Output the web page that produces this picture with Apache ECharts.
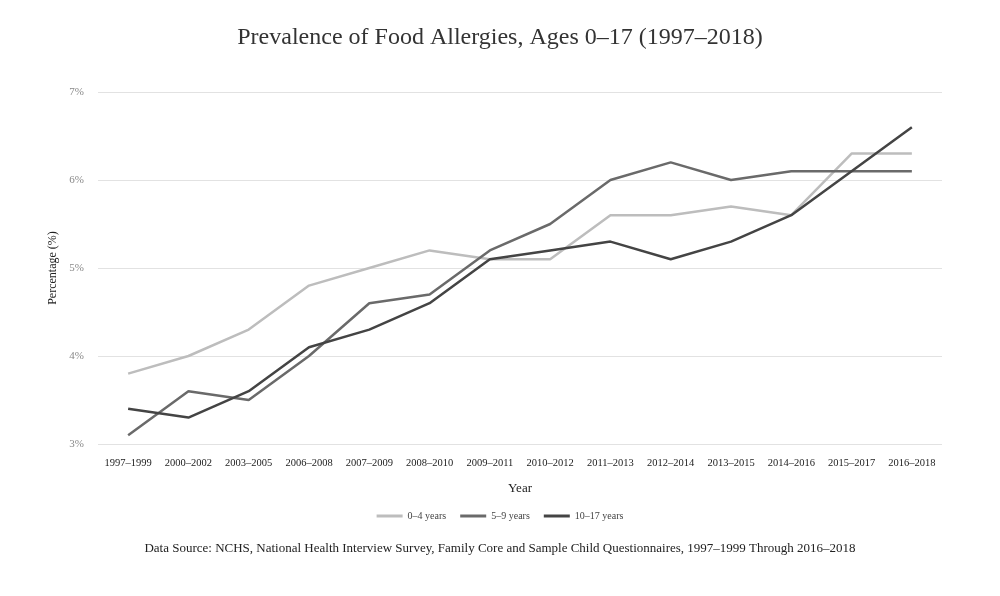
<!DOCTYPE html>
<html>
<head>
<meta charset="utf-8">
<script src="https://cdn.jsdelivr.net/npm/echarts@6/dist/echarts.min.js"></script>
<style>html,body{margin:0;padding:0;background:#fff;}#c{width:1000px;height:596px;}</style>
</head>
<body>
<div id="c"></div>
<script>
const categories = ["1997–1999","2000–2002","2003–2005","2006–2008","2007–2009","2008–2010","2009–2011","2010–2012","2011–2013","2012–2014","2013–2015","2014–2016","2015–2017","2016–2018"];
const ages0to4 = [3.8,4.0,4.3,4.8,5.0,5.2,5.1,5.1,5.6,5.6,5.7,5.6,6.3,6.3];
const ages5to9 = [3.1,3.6,3.5,4.0,4.6,4.7,5.2,5.5,6.0,6.2,6.0,6.1,6.1,6.1];
const ages10to17 = [3.4,3.3,3.6,4.1,4.3,4.6,5.1,5.2,5.3,5.1,5.3,5.6,6.1,6.6];
const seriesNames = ["0–4 years","5–9 years","10–17 years"];
const font = "'Liberation Serif', 'DejaVu Serif', serif";
const chart = echarts.init(document.getElementById('c'));
const mk = (name, data, color) => ({
  name, type: 'line', data, symbol: 'none',
  lineStyle: {color, width: 2.5}, itemStyle: {color}
});
chart.setOption({
  backgroundColor: '#fff',
  title: {
    text: 'Prevalence of Food Allergies, Ages 0–17 (1997–2018)',
    left: 'center', top: 21,
    textStyle: {fontFamily: font, fontSize: 24, fontWeight: 'normal', color: '#333'}
  },
  legend: {
    data: seriesNames, bottom: 70, left: 'center', itemWidth: 26, itemHeight: 3, itemGap: 14,
    icon: 'rect',
    textStyle: {fontFamily: font, fontSize: 10, color: '#444'}
  },
  graphic: [{
    type: 'text', left: 'center', top: 542,
    style: {text: 'Data Source: NCHS, National Health Interview Survey, Family Core and Sample Child Questionnaires, 1997–1999 Through 2016–2018',
      font: "13px 'Liberation Serif', serif", fill: '#222'}
  }],
  grid: {left: 98, right: 58, top: 92, bottom: 152},
  xAxis: {
    type: 'category', data: categories, boundaryGap: true,
    name: 'Year', nameLocation: 'middle', nameGap: 38,
    nameTextStyle: {fontFamily: font, fontSize: 13, color: '#222'},
    axisLine: {show: false}, axisTick: {show: false},
    axisLabel: {fontFamily: font, fontSize: 10.5, color: '#222', margin: 14, interval: 0}
  },
  yAxis: {
    type: 'value', min: 3, max: 7, interval: 1,
    name: 'Percentage (%)', nameLocation: 'middle', nameGap: 38,
    nameTextStyle: {fontFamily: font, fontSize: 12, color: '#222'},
    axisLine: {show: false}, axisTick: {show: false},
    axisLabel: {fontFamily: font, fontSize: 11, color: '#888', formatter: '{value}%', margin: 14},
    splitLine: {lineStyle: {color: '#e2e2e2', width: 1}}
  },
  series: [
    mk(seriesNames[0], ages0to4, '#bdbdbd'),
    mk(seriesNames[1], ages5to9, '#6a6a6a'),
    mk(seriesNames[2], ages10to17, '#444444')
  ]
});
</script>
</body>
</html>
